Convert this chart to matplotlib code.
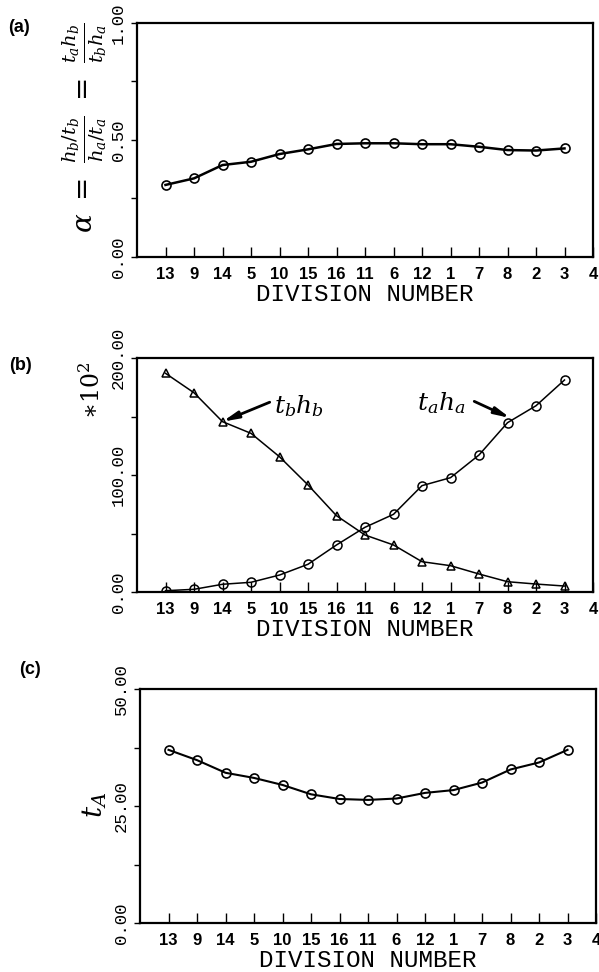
import matplotlib
matplotlib.use("Agg")
from matplotlib import pyplot as plt

W, H = 599, 972

division = ["13", "9", "14", "5", "10", "15", "16", "11", "6", "12", "1", "7", "8", "2", "3"]
extra_tick = "4"

alpha = [0.308, 0.336, 0.393, 0.407, 0.440, 0.460, 0.483, 0.486, 0.486, 0.482,
         0.482, 0.471, 0.457, 0.455, 0.464]
tb_hb = [186.9, 170.3, 145.6, 135.6, 115.6, 91.5, 65.2, 48.7, 40.2, 25.9,
         22.5, 15.4, 8.8, 6.8, 5.1]
ta_ha = [1.1, 2.3, 6.6, 8.3, 14.5, 23.7, 40.2, 55.3, 66.4, 90.9,
         97.7, 117.1, 144.7, 159.2, 181.2]
t_A = [37.0, 34.8, 32.1, 31.0, 29.5, 27.5, 26.5, 26.3, 26.6, 27.8,
       28.4, 30.0, 32.8, 34.3, 37.0]

x = list(range(1, len(division) + 1))

plt.rcParams["mathtext.fontset"] = "dejavuserif"


def px_axes(left, top, right, bottom):
    return [left / W, 1 - bottom / H, (right - left) / W, (bottom - top) / H]


def style_axes(ax, ymax, yticks, ylabels, minor):
    ax.set_xlim(0, len(division) + 1)
    ax.set_ylim(0, ymax)
    ax.set_xticks(range(1, len(division) + 2))
    ax.set_xticklabels(division + [extra_tick], fontfamily="Liberation Sans",
                       fontweight="bold", fontsize=12)
    ax.tick_params(axis="x", direction="in", length=7, width=1, pad=7)
    ax.set_yticks(yticks)
    ax.set_yticklabels(ylabels, rotation=90, va="center",
                       fontfamily="Liberation Mono", fontsize=12.5)
    ax.set_yticks(minor, minor=True)
    ax.tick_params(axis="y", which="both", direction="out", length=4, width=1, pad=4)
    ax.set_xlabel("DIVISION NUMBER", fontfamily="Liberation Mono", fontsize=17.5,
                  labelpad=1)
    for s in ax.spines.values():
        s.set_linewidth(1.6)


fig = plt.figure(figsize=(W / 100, H / 100), dpi=100)

# (a)
ax1 = fig.add_axes(px_axes(137, 23, 593, 257))
ax1.plot(x, alpha, color="black", lw=1.8, marker="o", ms=6.5, mfc="none", mew=1.2)
style_axes(ax1, 1.0, [0, 0.5, 1.0], ["0.00", "0.50", "1.00"], [0.25, 0.75])
fig.text(85 / W, 1 - 128 / H,
         r"$\alpha\ =\ \frac{h_b/t_b}{h_a/t_a}\ =\ \frac{t_a h_b}{t_b h_a}$",
         rotation=90, ha="center", va="center", fontsize=20, fontweight="bold")

# (b)
ax2 = fig.add_axes(px_axes(137, 358, 593, 592))
ax2.plot(x, tb_hb, color="black", lw=1.1, marker="^", ms=6, mfc="none", mew=1.1)
ax2.plot(x, ta_ha, color="black", lw=1.1, marker="o", ms=6.5, mfc="none", mew=1.1)
style_axes(ax2, 200, [0, 100, 200], ["0.00", "100.00", "200.00"], [50, 150])
fig.text(92 / W, 1 - 390 / H, r"$\ast10^2$", rotation=90, ha="center", va="center",
         fontsize=17)

arrow = dict(arrowstyle="-|>,head_length=0.9,head_width=0.2", lw=2, color="black",
             shrinkA=0, shrinkB=0)
i14 = division.index("14")
ax2.annotate("", xy=(x[i14], tb_hb[i14]), xytext=(34, 14), textcoords="offset points",
             arrowprops=arrow)
ax2.annotate(r"$t_b h_b$", xy=(x[i14], tb_hb[i14]), xytext=(37, 11),
             textcoords="offset points", ha="left", va="center", fontsize=18)
i8 = division.index("8")
ax2.annotate("", xy=(x[i8] + 0.1, ta_ha[i8] + 4), xytext=(-26, 12), textcoords="offset points",
             arrowprops=arrow)
ax2.annotate(r"$t_a h_a$", xy=(x[i8], ta_ha[i8]), xytext=(-30, 14),
             textcoords="offset points", ha="right", va="center", fontsize=18)

# (c)
ax3 = fig.add_axes(px_axes(140, 689, 596, 923))
ax3.plot(x, t_A, color="black", lw=1.5, marker="o", ms=6.5, mfc="none", mew=1.2)
style_axes(ax3, 50, [0, 25, 50], ["0.00", "25.00", "50.00"], [12.5, 37.5])
fig.text(95 / W, 1 - 805 / H, r"$t_A$", rotation=90, ha="center", va="center", fontsize=20)

for label, (px, py) in zip(["(a)", "(b)", "(c)"], [(19, 28), (20, 365), (30, 669)]):
    fig.text(px / W, 1 - py / H, label, ha="center", va="center", fontsize=13,
             fontweight="bold", fontfamily="Liberation Sans")

fig.savefig("out.png", dpi=100)
